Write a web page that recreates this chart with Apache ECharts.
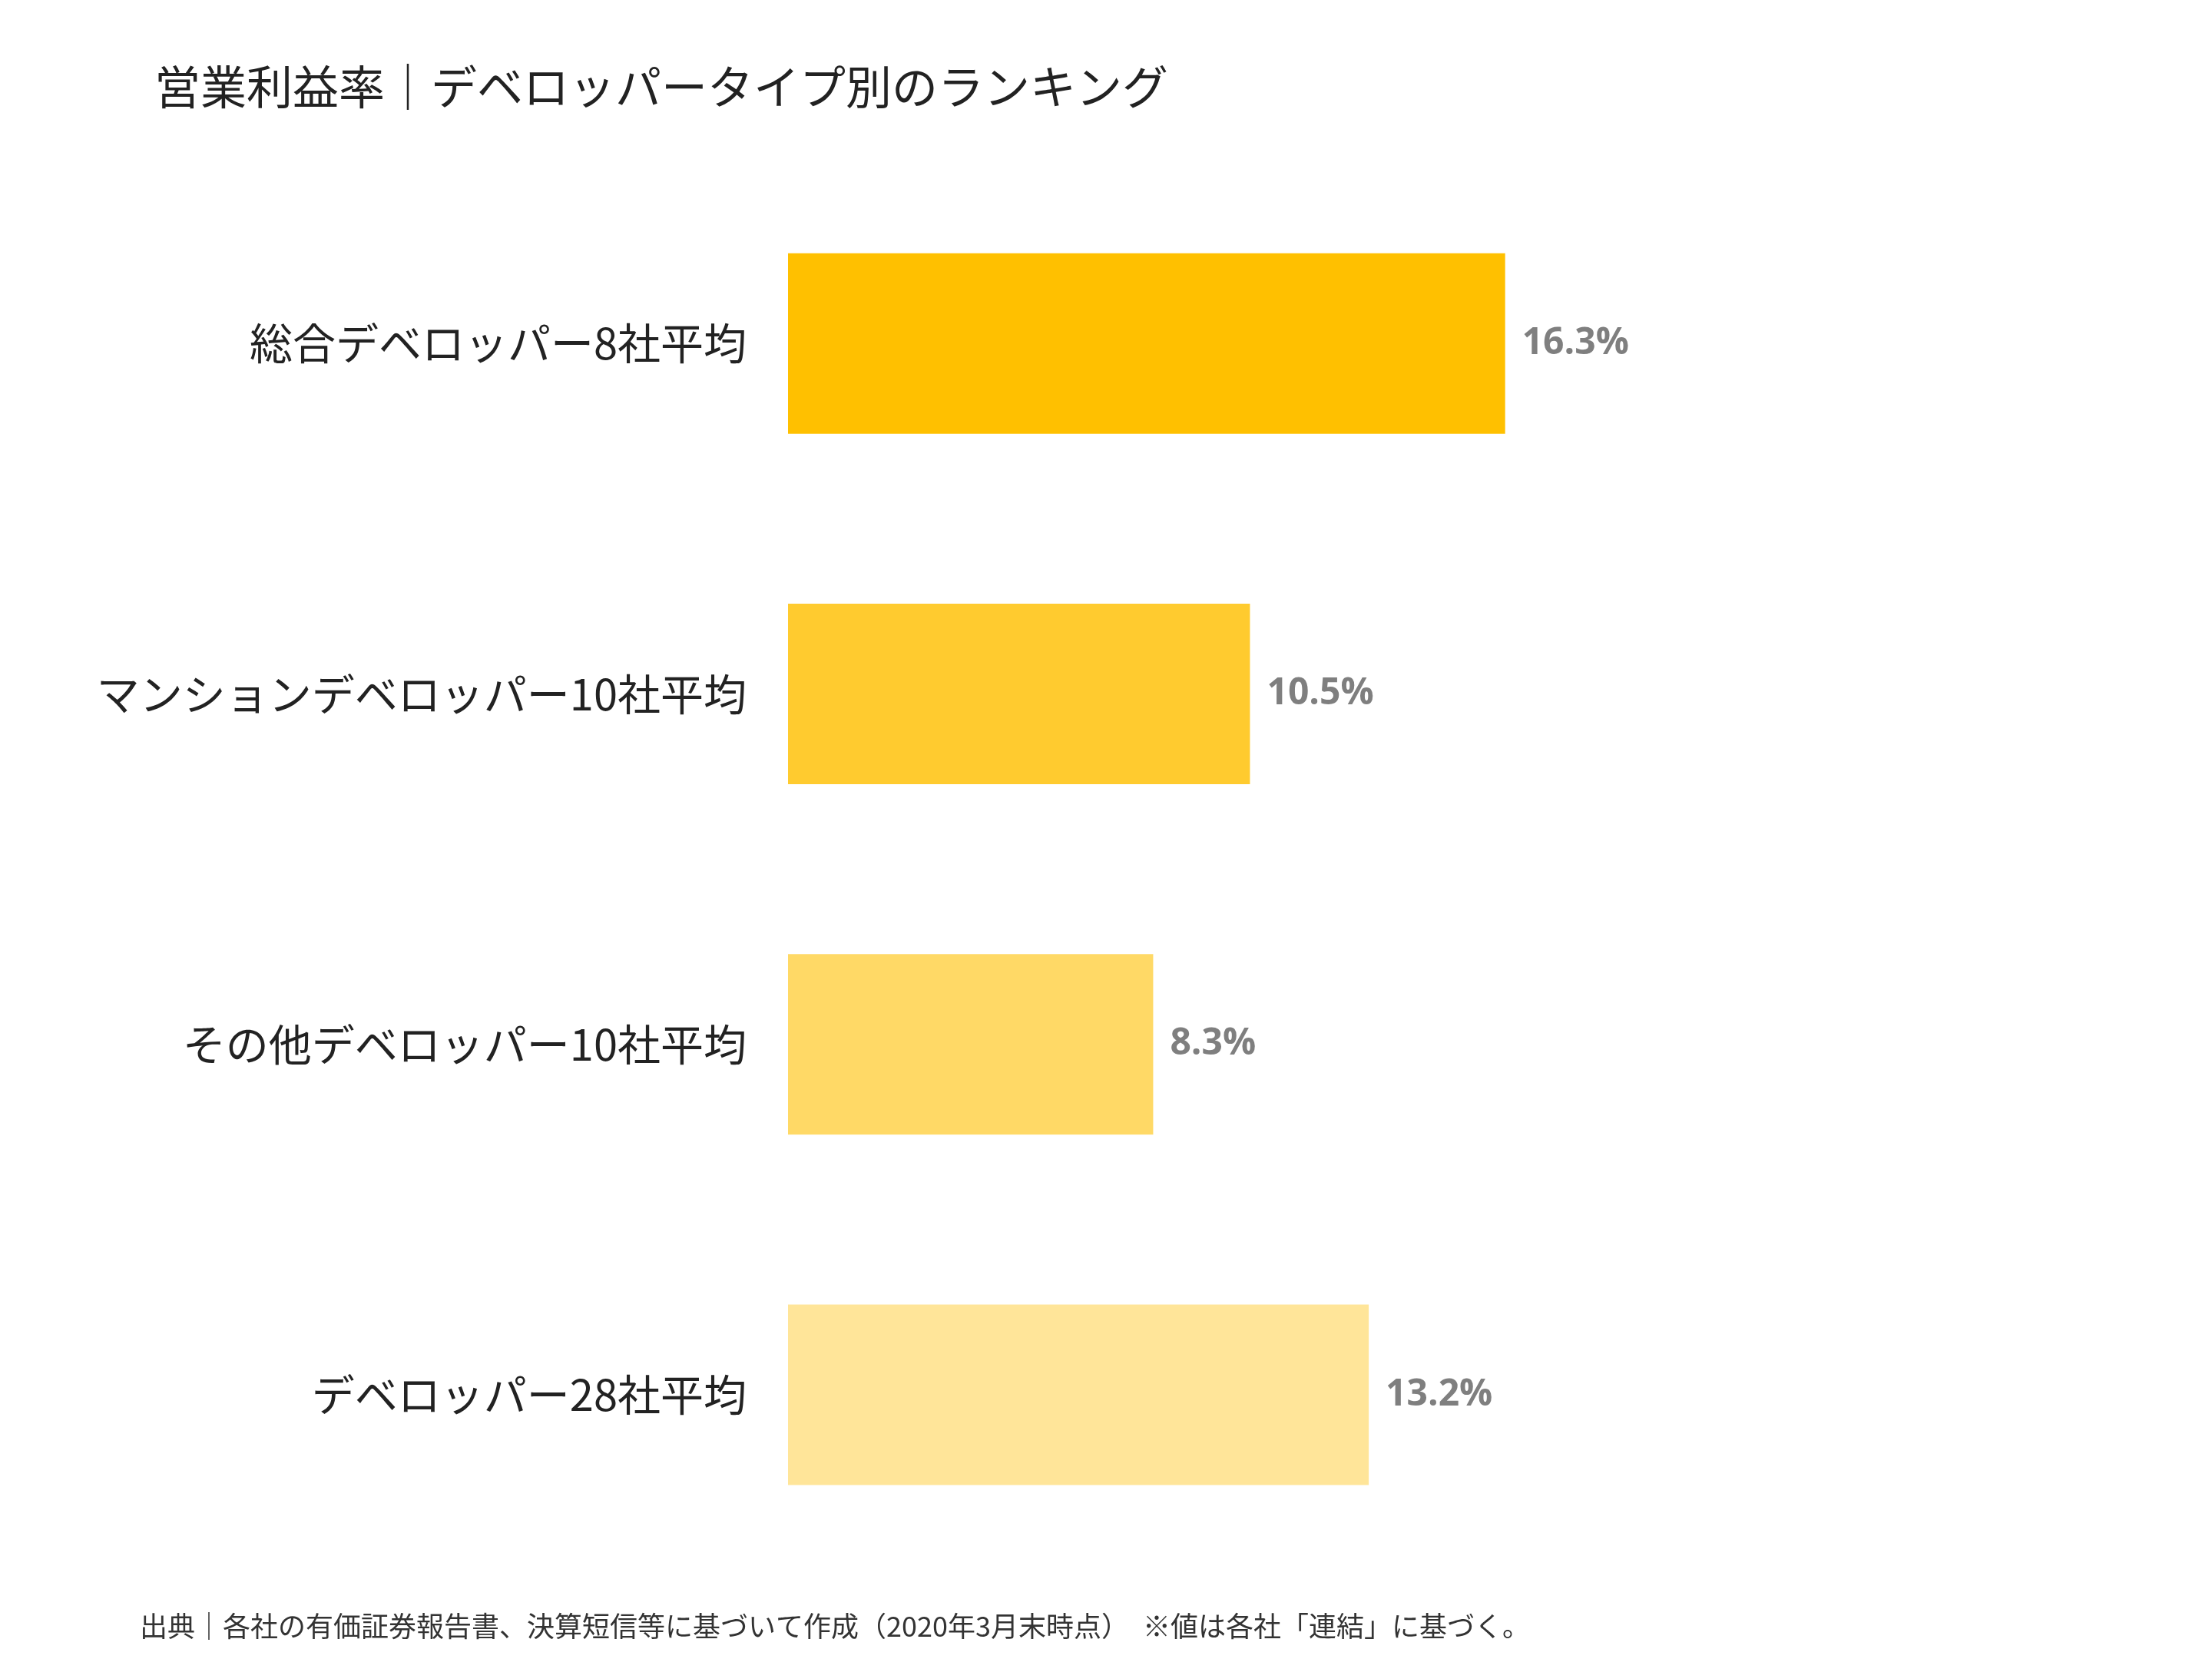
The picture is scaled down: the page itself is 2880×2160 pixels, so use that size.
<!DOCTYPE html>
<html><head><meta charset="utf-8">
<script src="https://cdn.jsdelivr.net/npm/echarts@6/dist/echarts.min.js"></script>
<style>html,body{margin:0;background:#fff}#c{width:2880px;height:2160px}</style>
</head><body><div id="c"></div>
<script>
const categories = ['総合デベロッパー8社平均','マンションデベロッパー10社平均','その他デベロッパー10社平均','デベロッパー28社平均'];
const values = [16.3, 10.5, 8.3, 13.2];
const colors = ['#FFC000','#FFCB2F','#FFD966','#FFE599'];
const F = '"Noto Sans CJK JP", sans-serif';
const chart = echarts.init(document.getElementById('c'));
chart.setOption({
  backgroundColor:'#fff',
  title:[{text:'営業利益率｜デベロッパータイプ別のランキング',left:196,top:78,textStyle:{fontFamily:F,fontSize:60,fontWeight:'normal',color:'#222'}},
         {text:'出典｜各社の有価証券報告書、決算短信等に基づいて作成（2020年3月末時点）　※値は各社「連結」に基づく。',left:177,top:2094,textStyle:{fontFamily:F,fontSize:36,fontWeight:'normal',color:'#333'}}],
  grid:{left:1026,top:219,width:1432,height:1825},
  xAxis:{type:'value',min:0,max:25,show:false},
  yAxis:{type:'category',inverse:true,data:categories,axisLine:{show:false},axisTick:{show:false},
    axisLabel:{fontFamily:F,fontSize:56,color:'#222',margin:54}},
  series:[{type:'bar',barWidth:235,
    data:values.map((v,i)=>({value:v,itemStyle:{color:colors[i]}})),
    label:{show:true,position:'right',distance:22,formatter:p=>p.value.toFixed(1)+'%',
      fontFamily:'"Open Sans", sans-serif',fontWeight:'bold',fontSize:48,color:'#7F7F7F'}}]
});
</script></body></html>
